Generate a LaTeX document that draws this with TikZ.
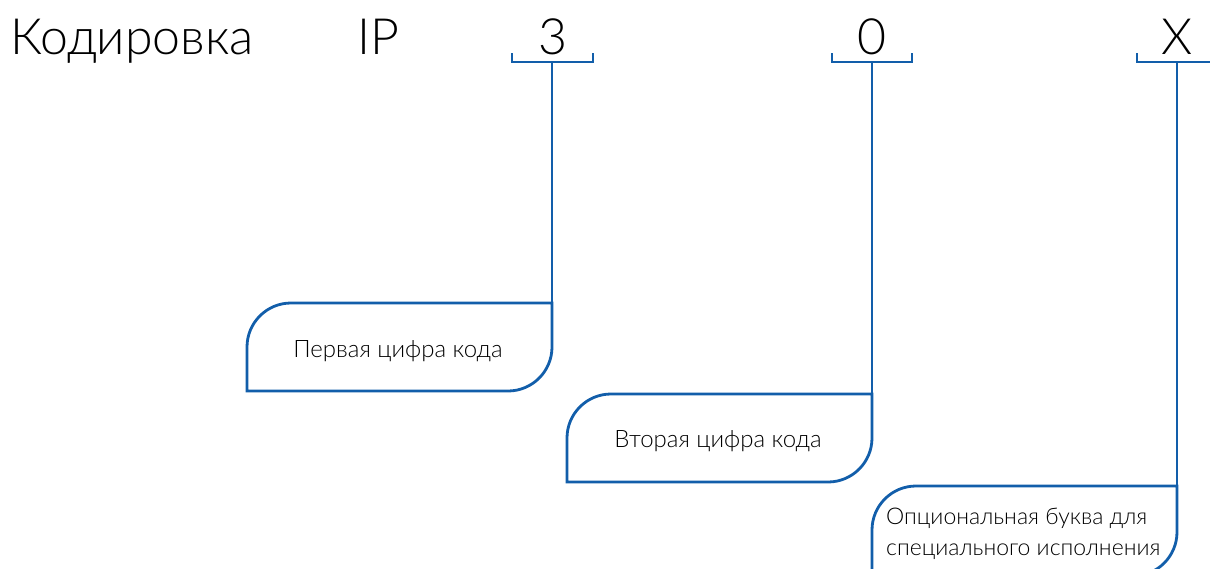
\documentclass[tikz,border=0pt]{standalone}
\usepackage{fontspec}
\setmainfont{Lato}[UprightFont={* Light}]
\definecolor{lineblue}{RGB}{18,94,170}
\tikzset{
  x=1pt,y=-1pt,
  conn/.style={draw=lineblue,line width=2.8pt},
  brk/.style={draw=lineblue,line width=2.8pt},
  big/.style={font=\fontsize{50}{60}\selectfont,inner sep=0pt,anchor=base},
  lbl/.style={font=\fontsize{24}{30}\selectfont,inner sep=0pt},
  lbls/.style={font=\fontsize{23}{31}\selectfont,inner sep=0pt},
}
\begin{document}
\begin{tikzpicture}
\useasboundingbox (0,0) rectangle (1210,568);
% headings
\node[big,anchor=base west] (title) at (10,54) {Кодировка};
\node[big] (ip) at (378,54) {IP};
\node[big] (d3) at (553,54) {3};
\node[big] (d0) at (872,54) {0};
\node[big] (dx) at (1177,54) {X};
% bracket centres
\coordinate (b3) at (552,62);
\coordinate (b0) at (872,62);
\coordinate (bx) at (1177,62);
% brackets
\draw[brk] (512,53) -- (512,62) -- (593,62) -- (593,53);
\draw[brk] (832,53) -- (832,62) -- (912,62) -- (912,53);
\draw[brk] (1137,53) -- (1137,62) -- (1215,62);
% box corners
\coordinate (c1) at (552,303);
\coordinate (c2) at (872,394);
\coordinate (c3) at (1177,486);
% connectors
\draw[conn] (b3) -- (c1);
\draw[conn] (b0) -- (c2);
\draw[conn] (bx) -- (c3);
% boxes
\draw[conn] (247,391) [rounded corners=44pt] -- (247,303) [sharp corners] -- (c1) [rounded corners=44pt] -- (552,391) [sharp corners] -- cycle;
\draw[conn] (567,482) [rounded corners=44pt] -- (567,394) [sharp corners] -- (c2) [rounded corners=44pt] -- (872,482) [sharp corners] -- cycle;
\draw[conn] (872,576) [rounded corners=44pt] -- (872,486) [sharp corners] -- (c3) [rounded corners=44pt] -- (1177,576) [sharp corners] -- cycle;
% labels
\node[lbl] (t1) at (398,351) {Первая цифра кода};
\node[lbl] (t2) at (718,441) {Вторая цифра кода};
\node[lbls,anchor=north west,align=left] (t3) at (886,508) {Опциональная буква для\\специального исполнения};
\end{tikzpicture}
\end{document}
